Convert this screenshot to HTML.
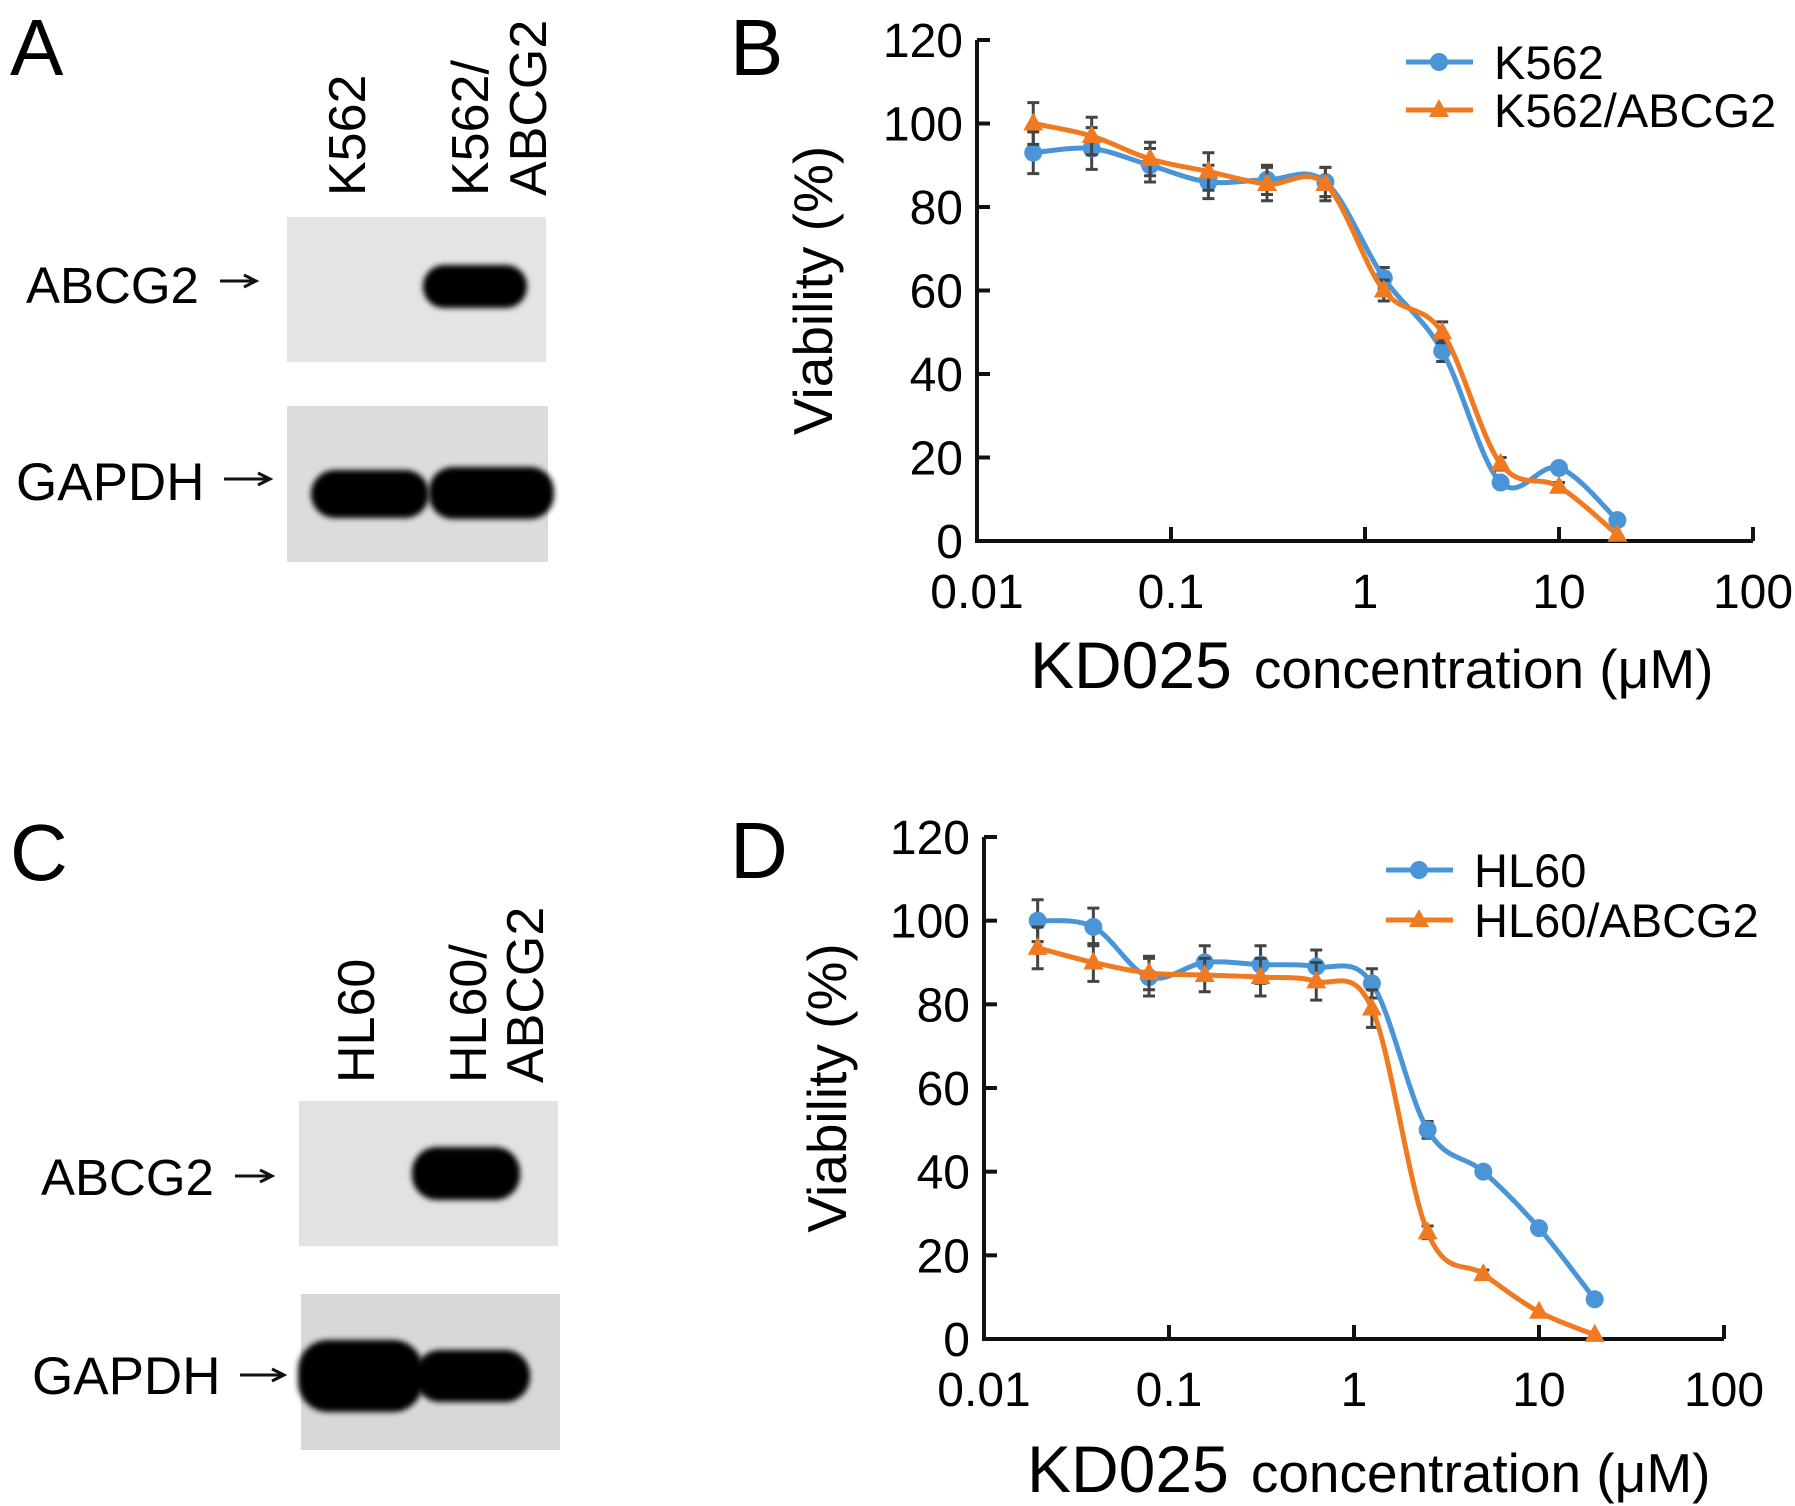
<!DOCTYPE html>
<html><head><meta charset="utf-8"><style>
html,body{margin:0;padding:0;background:#fff}
svg{display:block;font-family:"Liberation Sans",Arial,sans-serif}
</style></head><body>
<svg id="fig" width="1795" height="1506" viewBox="0 0 1795 1506" xmlns="http://www.w3.org/2000/svg">
<defs>
<filter id="blur" x="-20%" y="-50%" width="140%" height="200%"><feGaussianBlur stdDeviation="3"/></filter>
</defs>
<g>
<text x="10" y="75" font-size="80">A</text>
<text transform="translate(365,196) rotate(-90)" font-size="52">K562</text>
<text transform="translate(488,196) rotate(-90)" font-size="52">K562/</text>
<text transform="translate(546,196) rotate(-90)" font-size="52">ABCG2</text>
<rect x="287" y="217" width="259" height="145" fill="#e4e4e4"/>
<rect x="423" y="265" width="104" height="43" rx="21" fill="#000" filter="url(#blur)"/>
<rect x="287" y="406" width="261" height="156" fill="#dcdcdc"/>
<rect x="311" y="470" width="118" height="48" rx="24" fill="#000" filter="url(#blur)"/>
<rect x="429" y="467" width="125" height="52" rx="24" fill="#000" filter="url(#blur)"/>
<text x="26" y="303" font-size="51">ABCG2</text>
<path d="M220,281H254M244,275L256,281L244,287" stroke="#111" stroke-width="3" fill="none"/>
<text x="16" y="500" font-size="53">GAPDH</text>
<path d="M224,479H268M258,473L270,479L258,485" stroke="#111" stroke-width="3" fill="none"/>
</g>
<g>
<text x="10" y="880" font-size="80">C</text>
<text transform="translate(374,1083) rotate(-90)" font-size="52">HL60</text>
<text transform="translate(486,1083) rotate(-90)" font-size="52">HL60/</text>
<text transform="translate(543,1083) rotate(-90)" font-size="52">ABCG2</text>
<rect x="299" y="1101" width="259" height="145" fill="#e2e2e2"/>
<rect x="412" y="1147" width="108" height="53" rx="25" fill="#000" filter="url(#blur)"/>
<rect x="301" y="1294" width="259" height="156" fill="#d8d8d8"/>
<rect x="298" y="1340" width="125" height="72" rx="30" fill="#000" filter="url(#blur)"/>
<rect x="415" y="1350" width="115" height="52" rx="25" fill="#000" filter="url(#blur)"/>
<text x="41" y="1195" font-size="51">ABCG2</text>
<path d="M235,1176H270M260,1170L272,1176L260,1182" stroke="#111" stroke-width="3" fill="none"/>
<text x="32" y="1394" font-size="53">GAPDH</text>
<path d="M240,1375H282M272,1369L284,1375L272,1381" stroke="#111" stroke-width="3" fill="none"/>
</g>
<text x="730" y="75" font-size="80">B</text>
<text x="730" y="878" font-size="80">D</text>
<g id="chartB"></g>
<g id="chartD"></g>
</svg>
<script>
const concentrations = [0.0195, 0.039, 0.078, 0.156, 0.3125, 0.625, 1.25, 2.5, 5, 10, 20];
const yTicks = [0, 20, 40, 60, 80, 100, 120];
const xTickLabels = ["0.01", "0.1", "1", "10", "100"];
const xTickValues = [0.01, 0.1, 1, 10, 100];
const k562 = [93, 94, 90, 86, 86.5, 86, 63, 45.5, 14, 17.5, 5];
const k562Err = [5, 5, 4, 4, 3.5, 3.5, 2.5, 2.5, 1, 1, 0.5];
const k562Abcg2 = [100, 97, 91.5, 88.5, 85.5, 85.5, 60, 50, 18.5, 13, 1.5];
const k562Abcg2Err = [5, 4.5, 4, 4.5, 4, 4, 2.5, 2.5, 1.5, 1, 0.5];
const hl60 = [100, 98.5, 86.5, 90, 89.5, 89, 85, 50, 40, 26.5, 9.5];
const hl60Err = [5, 4.5, 4.5, 4, 4.5, 4, 3.5, 2, 1, 1, 0.5];
const hl60Abcg2 = [93.5, 90, 87.5, 87, 86.5, 85.5, 79, 25.5, 15.5, 6.5, 1];
const hl60Abcg2Err = [5, 4.5, 4, 4, 4.5, 4.5, 4.5, 1.5, 1, 0.5, 0.3];
const seriesNamesB = ["K562", "K562/ABCG2"];
const seriesNamesD = ["HL60", "HL60/ABCG2"];

const NS = "http://www.w3.org/2000/svg";
const BLUE = "#4a95d8", ORANGE = "#f07a22";
function el(tag, attrs, parent){const e=document.createElementNS(NS,tag);for(const k in attrs)e.setAttribute(k,attrs[k]);parent.appendChild(e);return e;}

function smoothPath(pts){
  let d="M"+pts[0][0]+","+pts[0][1];
  for(let i=0;i<pts.length-1;i++){
    const p0=pts[Math.max(0,i-1)],p1=pts[i],p2=pts[i+1],p3=pts[Math.min(pts.length-1,i+2)];
    const t=0.17;
    const c1=[p1[0]+(p2[0]-p0[0])*t,p1[1]+(p2[1]-p0[1])*t];
    const c2=[p2[0]-(p3[0]-p1[0])*t,p2[1]-(p3[1]-p1[1])*t];
    d+=" C"+c1[0]+","+c1[1]+" "+c2[0]+","+c2[1]+" "+p2[0]+","+p2[1];
  }
  return d;
}

function drawChart(g, cfg){
  const xs = v => cfg.x0 + (Math.log10(v)+2)*cfg.dec;
  const ys = v => cfg.y0 - v/120*(cfg.y0-cfg.y120);
  const xEnd = xs(100);
  const ax = el("path",{d:`M${cfg.x0},${cfg.y120} V${cfg.y0} H${xEnd}`,stroke:"#111","stroke-width":4,fill:"none"},g);
  
  
  yTicks.forEach(t=>{
    const tk=el("line",{x1:cfg.x0,x2:cfg.x0+13,y1:ys(t),y2:ys(t),stroke:"#111","stroke-width":4},g);
    
    
    const lb=el("text",{x:cfg.x0-14,y:ys(t)+17,"font-size":48,"text-anchor":"end"},g);
    lb.textContent=t;
    
    
  });
  xTickValues.forEach((v,i)=>{
    if(i>0){
      const tk=el("line",{x1:xs(v),x2:xs(v),y1:cfg.y0,y2:cfg.y0-14,stroke:"#111","stroke-width":4},g);
      
      
    }
    const lb=el("text",{x:xs(v),y:cfg.y0+67,"font-size":48,"text-anchor":"middle"},g);
    lb.textContent=xTickLabels[i];
    
    
  });
  const yt=el("text",{transform:`translate(${cfg.ytx},${(cfg.y0+cfg.y120)/2}) rotate(-90)`,"font-size":55,"text-anchor":"middle"},g);
  yt.textContent="Viability (%)";
  
  
  const xt=el("text",{x:cfg.xtx,y:cfg.xty,"font-size":55},g);
  xt.innerHTML='<tspan font-size="66">KD025</tspan><tspan dx="22">concentration (μM)</tspan>';
  
  

  cfg.series.forEach((s,si)=>{
    const pts=concentrations.map((c,i)=>[xs(c),ys(s.vals[i])]);
    pts.forEach((p,i)=>{
      const e=s.err[i]; if(e<1) return;
      const top=ys(s.vals[i]+e), bot=ys(s.vals[i]-e);
      const eb=el("path",{d:`M${p[0]},${top}V${bot}M${p[0]-6},${top}H${p[0]+6}M${p[0]-6},${bot}H${p[0]+6}`,stroke:"#444","stroke-width":3,fill:"none"},g);
      
      
    });
    const ln=el("path",{d:smoothPath(pts),stroke:s.color,"stroke-width":5,fill:"none"},g);
    
    
    pts.forEach(p=>{
      let m;
      if(s.marker==="circle") m=el("circle",{cx:p[0],cy:p[1],r:9,fill:s.color},g);
      else m=el("path",{d:`M${p[0]},${p[1]-11}L${p[0]+10},${p[1]+7}L${p[0]-10},${p[1]+7}Z`,fill:s.color},g);
      
      
    });
    const ly=cfg.legY+si*cfg.legDy;
    const ll=el("line",{x1:cfg.legX,x2:cfg.legX+67,y1:ly,y2:ly,stroke:s.color,"stroke-width":5},g);
    
    
    let lm;
    const mx=cfg.legX+33;
    if(s.marker==="circle") lm=el("circle",{cx:mx,cy:ly,r:9,fill:s.color},g);
    else lm=el("path",{d:`M${mx},${ly-11}L${mx+10},${ly+7}L${mx-10},${ly+7}Z`,fill:s.color},g);
    
    
    const lt=el("text",{x:cfg.legX+88,y:ly+17,"font-size":47},g);
    lt.textContent=s.name;
    
    
  });
}

drawChart(document.getElementById("chartB"),{x0:977,dec:194,y0:541,y120:40,ytx:832,xtx:1030,xty:688,legX:1406,legY:62,legDy:48,
  series:[{name:seriesNamesB[0],vals:k562,err:k562Err,color:BLUE,marker:"circle"},
          {name:seriesNamesB[1],vals:k562Abcg2,err:k562Abcg2Err,color:ORANGE,marker:"tri"}]});
drawChart(document.getElementById("chartD"),{x0:984,dec:185,y0:1339,y120:837,ytx:846,xty:1492,xtx:1027,legX:1386,legY:870,legDy:50,
  series:[{name:seriesNamesD[0],vals:hl60,err:hl60Err,color:BLUE,marker:"circle"},
          {name:seriesNamesD[1],vals:hl60Abcg2,err:hl60Abcg2Err,color:ORANGE,marker:"tri"}]});
</script>
</body></html>
